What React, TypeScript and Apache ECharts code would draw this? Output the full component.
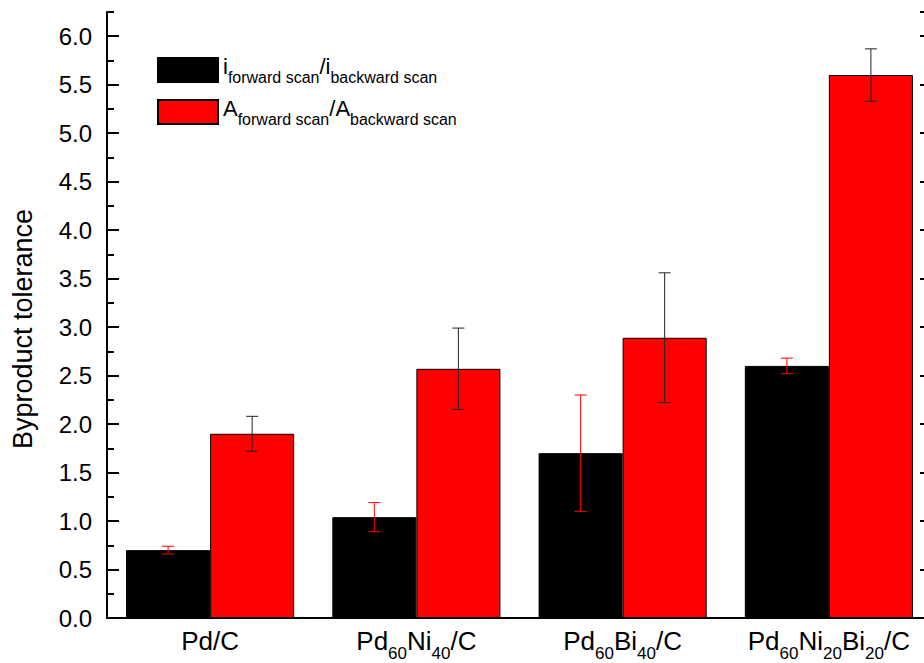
import React, { useEffect, useRef } from "react";
import * as echarts from "echarts";

const categories = ["Pd/C", "Pd60Ni40/C", "Pd60Bi40/C", "Pd60Ni20Bi20/C"];
const categoryLabels = [
  "{m|Pd/C}",
  "{m|Pd}{s|60}{m|Ni}{s|40}{m|/C}",
  "{m|Pd}{s|60}{m|Bi}{s|40}{m|/C}",
  "{m|Pd}{s|60}{m|Ni}{s|20}{m|Bi}{s|20}{m|/C}",
];
const iRatio = [0.7, 1.04, 1.7, 2.6];
const iErr = [0.04, 0.15, 0.6, 0.08];
const aRatio = [1.9, 2.57, 2.89, 5.6];
const aErr = [0.18, 0.42, 0.67, 0.27];

const FONT = "'Liberation Sans', Arial, sans-serif";
const GAP = 0.185;

function errData(vals: number[], errs: number[]) {
  return vals.map((v, i) => [i, v - errs[i], v + errs[i]]);
}

function errSeries(name: string, vals: number[], errs: number[], side: number, color: string) {
  return {
    type: "custom",
    name,
    data: errData(vals, errs),
    z: 10,
    renderItem: (params: any, api: any) => {
      const idx = api.value(0);
      const lo = api.coord([idx, api.value(1)]);
      const hi = api.coord([idx, api.value(2)]);
      const band = api.size([1, 0])[0];
      const barW = (band * (1 - GAP)) / 2;
      const x = lo[0] + (side * barW) / 2;
      const cap = 6;
      const st = { stroke: color, lineWidth: 1 };
      return {
        type: "group",
        children: [
          { type: "line", shape: { x1: x, y1: lo[1], x2: x, y2: hi[1] }, style: st },
          { type: "line", shape: { x1: x - cap, y1: lo[1], x2: x + cap, y2: lo[1] }, style: st },
          { type: "line", shape: { x1: x - cap, y1: hi[1], x2: x + cap, y2: hi[1] }, style: st },
        ],
      };
    },
  };
}

function yAx(position: string, interval: number, len: number, labels: boolean, line: boolean) {
  return {
    type: "value",
    position,
    min: 0,
    max: 6.25,
    interval,
    axisLine: { show: line, lineStyle: { color: "#000", width: 2 } },
    axisTick: { show: true, inside: true, length: len, lineStyle: { color: "#000", width: 2 } },
    axisLabel: {
      show: labels,
      showMaxLabel: false,
      margin: 15,
      fontSize: 24,
      fontFamily: FONT,
      color: "#000",
      formatter: (v: number) => v.toFixed(1),
    },
    splitLine: { show: false },
  };
}

export default function App() {
  const ref = useRef<HTMLDivElement>(null);
  useEffect(() => {
    const chart = echarts.init(ref.current!, null, { renderer: "svg" });
    chart.setOption({
      animation: false,
      backgroundColor: "#fff",
      grid: {
        left: 107,
        top: 12,
        width: 825,
        height: 606,
        containLabel: false,
        outerBoundsMode: "none",
      },
      legend: {
        orient: "vertical",
        left: 157,
        top: 55,
        padding: 0,
        itemWidth: 60,
        itemHeight: 24,
        itemGap: 12,
        icon: "rect",
        data: ["i", "A"],
        formatter: (n: string) =>
          `{m|${n}}{s|forward scan}{m|/${n}}{s|backward scan}`,
        textStyle: {
          fontFamily: FONT,
          color: "#000",
          rich: {
            m: { fontSize: 22, fontFamily: FONT, color: "#000", verticalAlign: "top", lineHeight: 30 },
            s: { fontSize: 16, fontFamily: FONT, color: "#000", verticalAlign: "bottom", lineHeight: 30 },
          },
        },
      },
      xAxis: [
        {
          type: "category",
          data: categories,
          position: "bottom",
          axisLine: { lineStyle: { color: "#222", width: 2 } },
          axisTick: { show: false },
          axisLabel: {
            interval: 0,
            margin: 10,
            color: "#000",
            fontFamily: FONT,
            formatter: (_v: string, i: number) => categoryLabels[i],
            rich: {
              m: { fontSize: 26, fontFamily: FONT, color: "#000", verticalAlign: "top", lineHeight: 34 },
              s: { fontSize: 17, fontFamily: FONT, color: "#000", verticalAlign: "bottom", lineHeight: 34 },
            },
          },
        },
        {
          type: "category",
          data: categories,
          position: "top",
          axisLine: { lineStyle: { color: "#000", width: 2 } },
          axisTick: { show: false },
          axisLabel: { show: false },
        },
      ],
      yAxis: [
        yAx("left", 0.5, 12, true, true),
        yAx("left", 0.25, 7, false, false),
        yAx("right", 0.5, 12, false, true),
        yAx("right", 0.25, 7, false, false),
      ],
      graphic: [
        {
          type: "text",
          x: 23,
          y: 329,
          rotation: Math.PI / 2,
          style: {
            text: "Byproduct tolerance",
            fontSize: 27,
            fontFamily: FONT,
            fill: "#000",
            align: "center",
            verticalAlign: "middle",
          },
        },
      ],
      series: [
        {
          name: "i",
          type: "bar",
          data: iRatio,
          barGap: "0%",
          barCategoryGap: GAP * 100 + "%",
          itemStyle: { color: "#000", borderColor: "#000", borderWidth: 1 },
        },
        {
          name: "A",
          type: "bar",
          data: aRatio,
          barGap: "0%",
          barCategoryGap: GAP * 100 + "%",
          itemStyle: { color: "#ff0000", borderColor: "#000", borderWidth: 1 },
        },
        errSeries("iErr", iRatio, iErr, -1, "#ff0000"),
        errSeries("aErr", aRatio, aErr, 1, "#222"),
      ],
    });
    return () => chart.dispose();
  }, []);
  return (
    <div
      ref={ref}
      style={{ position: "fixed", left: 0, top: 0, width: 924, height: 663, background: "#fff" }}
    />
  );
}
